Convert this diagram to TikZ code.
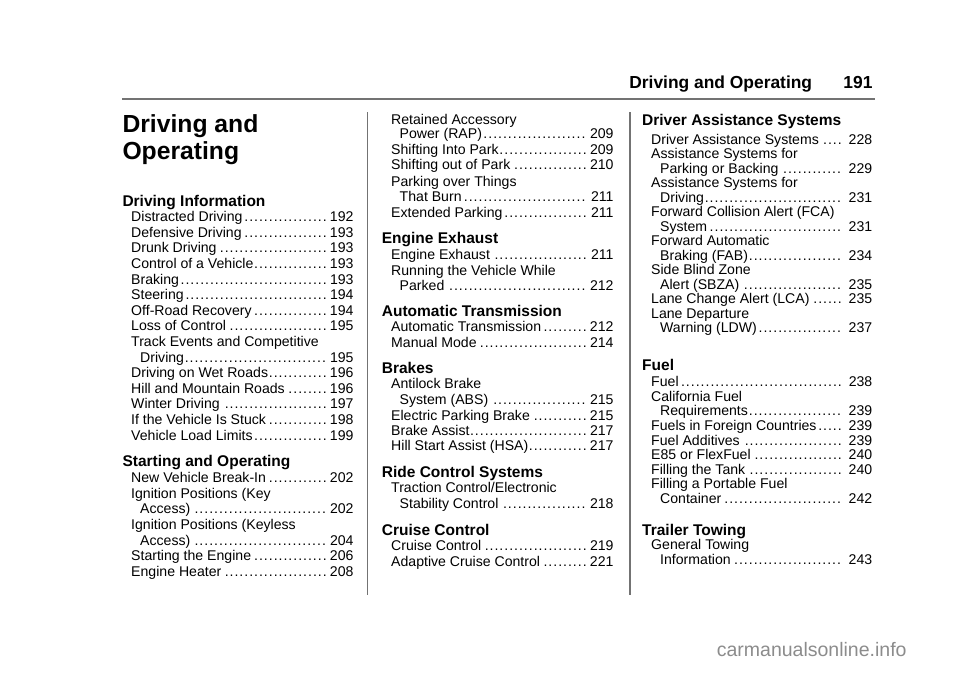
\documentclass[tikz,border=0pt]{standalone}
\usepackage{fontspec}
\setmainfont{Liberation Sans}
\newcounter{ent}
\newcommand\setcol[4]{\def\hx{#1}\def\ex{#2}\def\cx{#3}\def\rx{#4}}
\newcommand\dotfil{\leaders\hbox to 4.9pt{\hss.\hss}\hfill\kern2.5pt}
\newcommand\hd[2]{\stepcounter{ent}\node[hd] (n\arabic{ent}) at (\hx,#1+5.5) {#2};}
\newcommand\E[3]{\stepcounter{ent}\node[en] (n\arabic{ent}) at (\ex,#1+5) {\hbox to \dimexpr\rx pt-\ex pt\relax{#2\dotfil#3}};}
\newcommand\F[2]{\stepcounter{ent}\node[en] (n\arabic{ent}) at (\ex,#1+5) {#2};}
\newcommand\C[3]{\stepcounter{ent}\node[en] (n\arabic{ent}) at (\cx,#1+5) {\hbox to \dimexpr\rx pt-\cx pt\relax{#2\dotfil#3}};}
\begin{document}
\begin{tikzpicture}[x=1pt,y=-1pt,
  en/.style={anchor=base west,inner sep=0pt,font=\fontsize{14.1}{15}\selectfont},
  hd/.style={anchor=base west,inner sep=0pt,font=\fontsize{15.5}{17}\selectfont\bfseries},
  rule/.style={draw=black!55,line width=1.3pt}]
\useasboundingbox[fill=white] (0,0) rectangle (960,678);
% header
\node[anchor=base east,inner sep=0pt,font=\fontsize{17.4}{19}\selectfont\bfseries] (hdr) at (812.3,88.7) {Driving and Operating};
\node[anchor=base east,inner sep=0pt,font=\fontsize{17.4}{19}\selectfont\bfseries] (pg) at (872.7,88.7) {191};
\coordinate (r1) at (122,99); \coordinate (r2) at (875,99);
\draw[rule] (r1) -- (r2);
\coordinate (v1a) at (367.5,112); \coordinate (v1b) at (367.5,595);
\coordinate (v2a) at (630,112); \coordinate (v2b) at (630,595);
\draw[rule,line width=1.1pt] (v1a) -- (v1b);
\draw[rule,line width=1.1pt] (v2a) -- (v2b);
% title
\node[anchor=base west,inner sep=0pt,font=\fontsize{24.7}{28}\selectfont\bfseries] (t1) at (122.3,132.7) {Driving and};
\node[anchor=base west,inner sep=0pt,font=\fontsize{24.7}{28}\selectfont\bfseries] (t2) at (122.3,159.3) {Operating};
% column 1
\setcol{122.3}{131}{140}{353.3}
\hd{201}{Driving Information}
\E{216.7}{Distracted Driving}{192}
\E{232.3}{Defensive Driving}{193}
\E{247.9}{Drunk Driving}{193}
\E{263.5}{Control of a Vehicle}{193}
\E{279.1}{Braking}{193}
\E{294.7}{Steering}{194}
\E{310.3}{Off-Road Recovery}{194}
\E{325.9}{Loss of Control}{195}
\F{341.5}{Track Events and Competitive}
\C{357.1}{Driving}{195}
\E{372.7}{Driving on Wet Roads}{196}
\E{388.3}{Hill and Mountain Roads}{196}
\E{403.9}{Winter Driving}{197}
\E{419.5}{If the Vehicle Is Stuck}{198}
\E{435.1}{Vehicle Load Limits}{199}
\hd{461}{Starting and Operating}
\E{477.3}{New Vehicle Break-In}{202}
\F{493.0}{Ignition Positions (Key}
\C{508.7}{Access)}{202}
\F{524.4}{Ignition Positions (Keyless}
\C{540.1}{Access)}{204}
\E{555.8}{Starting the Engine}{206}
\E{571.5}{Engine Heater}{208}
% column 2
\setcol{381.7}{391}{399.5}{613.3}
\F{119.3}{Retained Accessory}
\C{133.3}{Power (RAP)}{209}
\E{149}{Shifting Into Park}{209}
\E{164.5}{Shifting out of Park}{210}
\F{181}{Parking over Things}
\C{196.7}{That Burn}{211}
\E{212.3}{Extended Parking}{211}
\hd{237.7}{Engine Exhaust}
\E{254.3}{Engine Exhaust}{211}
\F{270}{Running the Vehicle While}
\C{285.5}{Parked}{212}
\hd{310.7}{Automatic Transmission}
\E{326.7}{Automatic Transmission}{212}
\E{342.7}{Manual Mode}{214}
\hd{368.3}{Brakes}
\F{383.5}{Antilock Brake}
\C{399.3}{System (ABS)}{215}
\E{415}{Electric Parking Brake}{215}
\E{430.5}{Brake Assist}{217}
\E{445.7}{Hill Start Assist (HSA)}{217}
\hd{472.3}{Ride Control Systems}
\F{487.7}{Traction Control/Electronic}
\C{503.3}{Stability Control}{218}
\hd{530}{Cruise Control}
\E{545.7}{Cruise Control}{219}
\E{561}{Adaptive Cruise Control}{221}
% column 3
\setcol{642}{651}{660}{872}
\hd{119.5}{Driver Assistance Systems}
\E{139.3}{Driver Assistance Systems}{228}
\F{153.8}{Assistance Systems for}
\C{168.3}{Parking or Backing}{229}
\F{182.8}{Assistance Systems for}
\C{197.3}{Driving}{231}
\F{211.8}{Forward Collision Alert (FCA)}
\C{226.3}{System}{231}
\F{240.8}{Forward Automatic}
\C{255.3}{Braking (FAB)}{234}
\F{269.8}{Side Blind Zone}
\C{284.3}{Alert (SBZA)}{235}
\E{298.8}{Lane Change Alert (LCA)}{235}
\F{313.3}{Lane Departure}
\C{327.8}{Warning (LDW)}{237}
\hd{364.7}{Fuel}
\E{381.7}{Fuel}{238}
\F{396.3}{California Fuel}
\C{410.9}{Requirements}{239}
\E{425.5}{Fuels in Foreign Countries}{239}
\E{440.1}{Fuel Additives}{239}
\E{454.7}{E85 or FlexFuel}{240}
\E{469.3}{Filling the Tank}{240}
\F{483.9}{Filling a Portable Fuel}
\C{498.5}{Container}{242}
\hd{530}{Trailer Towing}
\F{544.5}{General Towing}
\C{559}{Information}{243}
% watermark
\node[anchor=base,inner sep=0pt,text=black!45,font=\fontsize{19.5}{21}\selectfont] (wm) at (811.7,656.6) {carmanualsonline.info};
\end{tikzpicture}
\end{document}
